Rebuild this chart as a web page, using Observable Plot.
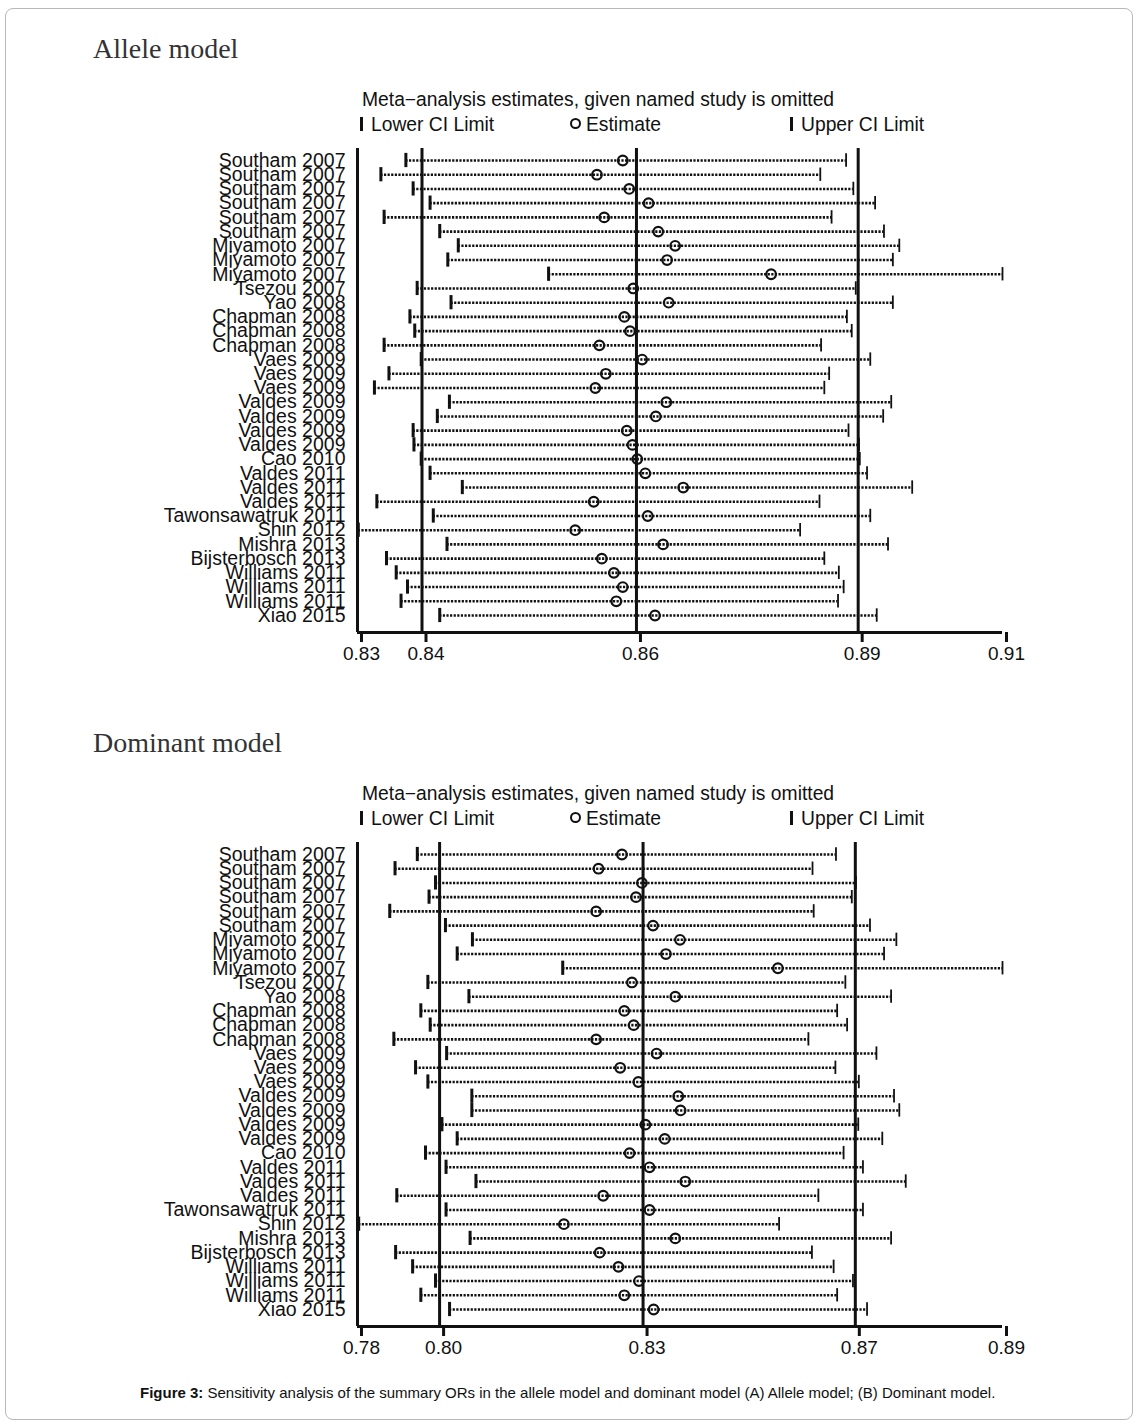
<!DOCTYPE html>
<html><head><meta charset="utf-8">
<script src="https://cdn.jsdelivr.net/npm/d3@7"></script>
<script src="https://cdn.jsdelivr.net/npm/@observablehq/plot@0.6"></script>
<style>
html,body{margin:0;padding:0;background:#fff;}
body{width:1139px;height:1427px;position:relative;font-family:"Liberation Sans",Arial,sans-serif;color:#111;}
#frame{position:absolute;left:5px;top:8px;width:1128px;height:1412px;border:1px solid #b8b8b8;border-radius:8px;box-sizing:border-box;}
.abs{position:absolute;white-space:nowrap;line-height:1;}
.title{font-family:"Liberation Serif","DejaVu Serif",serif;font-size:28px;color:#333;}
.sub{font-size:19.3px;}
.bar{position:absolute;width:3px;height:14px;background:#111;}
.circ{position:absolute;width:7px;height:7px;border:2px solid #111;border-radius:50%;}
.cap{font-size:15px;}
.plotwrap{position:absolute;left:0;}
</style></head>
<body>
<div id="frame"></div>
<div id="root"></div>
<script>
const studies = ["Southam 2007","Southam 2007","Southam 2007","Southam 2007","Southam 2007","Southam 2007",
  "Miyamoto 2007","Miyamoto 2007","Miyamoto 2007","Tsezou 2007","Yao 2008",
  "Chapman 2008","Chapman 2008","Chapman 2008","Vaes 2009","Vaes 2009","Vaes 2009",
  "Valdes 2009","Valdes 2009","Valdes 2009","Valdes 2009","Cao 2010",
  "Valdes 2011","Valdes 2011","Valdes 2011","Tawonsawatruk 2011","Shin 2012","Mishra 2013",
  "Bijsterbosch 2013","Williams 2011","Williams 2011","Williams 2011","Xiao 2015"];

const alleleLower = [0.8360,0.8329,0.8369,0.8390,0.8333,0.8402,0.8425,0.8412,0.8537,0.8374,0.8416,0.8365,0.8371,0.8333,0.8379,0.8339,0.8321,0.8414,0.8399,0.8369,0.8370,0.8379,0.8390,0.8430,0.8324,0.8394,0.8301,0.8411,0.8336,0.8348,0.8362,0.8354,0.8402];
const alleleEst = [0.8629,0.8597,0.8637,0.8661,0.8606,0.8673,0.8694,0.8684,0.8813,0.8642,0.8686,0.8631,0.8638,0.8600,0.8653,0.8608,0.8595,0.8683,0.8670,0.8634,0.8641,0.8647,0.8657,0.8704,0.8593,0.8660,0.8570,0.8679,0.8603,0.8618,0.8629,0.8621,0.8669];
const alleleUpper = [0.8906,0.8874,0.8915,0.8942,0.8888,0.8953,0.8972,0.8964,0.9100,0.8918,0.8964,0.8907,0.8913,0.8875,0.8936,0.8885,0.8879,0.8962,0.8952,0.8909,0.8922,0.8923,0.8932,0.8988,0.8873,0.8936,0.8849,0.8958,0.8879,0.8897,0.8903,0.8896,0.8944];
const alleleTicks = [0.8300, 0.8380, 0.8646, 0.8921, 0.9100];
const alleleTickLabels = ["0.83","0.84","0.86","0.89","0.91"];

const domLower = [0.7902,0.7864,0.7933,0.7922,0.7855,0.7950,0.7996,0.7970,0.8150,0.7920,0.7990,0.7908,0.7924,0.7862,0.7952,0.7899,0.7920,0.7995,0.7995,0.7944,0.7970,0.7916,0.7951,0.8002,0.7867,0.7951,0.7802,0.7992,0.7865,0.7894,0.7933,0.7908,0.7957];
const domEst = [0.8251,0.8211,0.8285,0.8275,0.8207,0.8304,0.8350,0.8326,0.8517,0.8268,0.8342,0.8255,0.8271,0.8207,0.8310,0.8248,0.8279,0.8347,0.8351,0.8291,0.8324,0.8264,0.8298,0.8359,0.8219,0.8298,0.8152,0.8342,0.8213,0.8245,0.8280,0.8255,0.8305];
const domUpper = [0.8616,0.8576,0.8650,0.8643,0.8578,0.8674,0.8719,0.8698,0.8900,0.8632,0.8710,0.8618,0.8635,0.8569,0.8685,0.8615,0.8655,0.8715,0.8724,0.8654,0.8695,0.8629,0.8662,0.8735,0.8586,0.8662,0.8519,0.8710,0.8575,0.8612,0.8645,0.8618,0.8669];
const domTicks = [0.7800, 0.7940, 0.8287, 0.8649, 0.8900];
const domTickLabels = ["0.78","0.80","0.83","0.87","0.89"];

const root = document.getElementById("root");
function addDiv(cls, left, top, html){
  const d = document.createElement("div");
  d.className = "abs " + cls;
  d.style.left = left + "px"; d.style.top = top + "px";
  d.innerHTML = html; root.appendChild(d); return d;
}

function panel(title, lower, est, upper, ticks, tickLabels, off){
  addDiv("title", 93, 35 + off, title);
  addDiv("sub", 362, 90 + off, "Meta\u2212analysis estimates, given named study is omitted");
  const b1 = document.createElement("div"); b1.className="bar"; b1.style.left="360px"; b1.style.top=(117+off)+"px"; root.appendChild(b1);
  addDiv("sub", 371, 115 + off, "Lower CI Limit");
  const c = document.createElement("div"); c.className="circ"; c.style.left="570px"; c.style.top=(118+off)+"px"; root.appendChild(c);
  addDiv("sub", 586, 115 + off, "Estimate");
  const b2 = document.createElement("div"); b2.className="bar"; b2.style.left="790px"; b2.style.top=(117+off)+"px"; root.appendChild(b2);
  addDiv("sub", 801, 115 + off, "Upper CI Limit");

  const rows = studies.map((s, i) => ({i, s, lo: lower[i], est: est[i], up: upper[i]}));
  const labelMap = new Map(ticks.map((t, i) => [t, tickLabels[i]]));
  const x0 = ticks[0], x1 = ticks[ticks.length - 1];
  const yTop = -0.844, yBot = 33.195;
  const chart = Plot.plot({
    width: 1139, height: 530,
    marginLeft: 357, marginRight: 137, marginTop: 8, marginBottom: 38,
    style: {fontFamily: "'Liberation Sans', Arial, sans-serif", fontSize: "19px", color: "#111", background: "transparent", overflow: "visible"},
    x: {domain: [x0, x1], axis: null},
    y: {domain: [yTop, yBot], reverse: true, axis: null},
    marks: [
      Plot.ruleX(ticks.slice(1, 4), {stroke: "#111", strokeWidth: 3}),
      Plot.ruleX([x0], {stroke: "#111", strokeWidth: 3}),
      Plot.ruleY([yBot], {x1: x0, x2: x1, stroke: "#111", strokeWidth: 3}),
      Plot.axisX(ticks, {anchor: "bottom", tickSize: 10, tickPadding: 4, strokeWidth: 3, stroke: "#111",
        tickFormat: d => labelMap.get(d), fontSize: 19, dx: 4, label: null}),
      Plot.ruleY(rows, {y: "i", x1: "lo", x2: "up", stroke: "#111", strokeWidth: 2.6, strokeDasharray: "2.2,1.4"}),
      Plot.ruleX(rows, {x: "lo", y1: d => d.i - 0.5, y2: d => d.i + 0.5, stroke: "#111", strokeWidth: 3}),
      Plot.ruleX(rows, {x: "up", y1: d => d.i - 0.47, y2: d => d.i + 0.47, stroke: "#111", strokeWidth: 1.8}),
      Plot.dot(rows, {x: "est", y: "i", r: 4.8, stroke: "#111", strokeWidth: 2.2, fill: "none"}),
      Plot.text(rows, {x: () => x0, y: "i", text: "s", textAnchor: "end", dx: -12, fontSize: 19.5, fill: "#111"})
    ]
  });
  const w = document.createElement("div"); w.className = "plotwrap"; w.style.top = (140 + off) + "px";
  w.appendChild(chart); root.appendChild(w);
}

panel("Allele model", alleleLower, alleleEst, alleleUpper, alleleTicks, alleleTickLabels, 0);
panel("Dominant model", domLower, domEst, domUpper, domTicks, domTickLabels, 694);

addDiv("cap", 140, 1385, "<b>Figure 3:</b> Sensitivity analysis of the summary ORs in the allele model and dominant model (A) Allele model; (B) Dominant model.");
</script>
</body></html>
